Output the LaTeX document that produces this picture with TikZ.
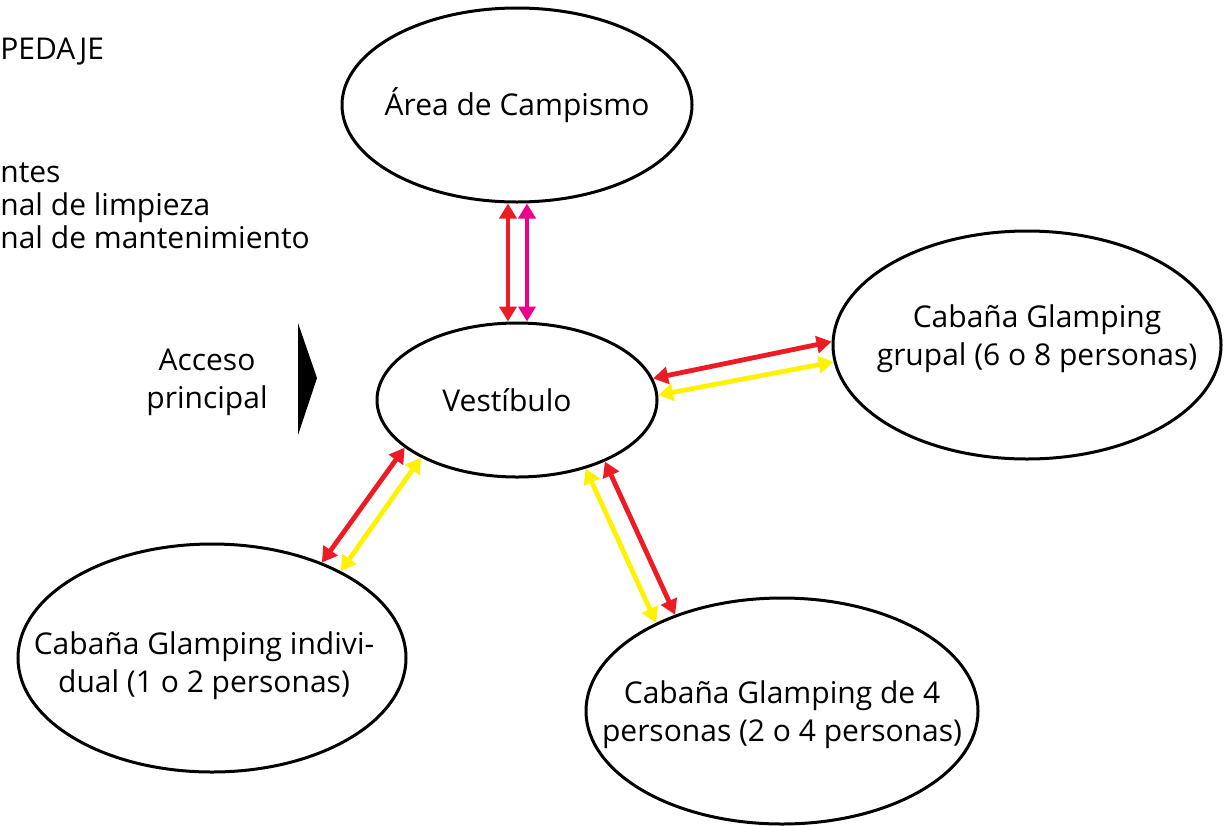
\documentclass[tikz,border=0pt]{standalone}
\usepackage{fontspec}
\setmainfont{Open Sans}
\usetikzlibrary{arrows.meta, shapes.geometric}
\definecolor{rojo}{RGB}{237,28,36}
\definecolor{rosa}{RGB}{236,0,140}
\definecolor{amarillo}{RGB}{255,242,0}

\begin{document}
\begin{tikzpicture}[
    x=0.5pt, y=-0.5pt,
    font=\fontsize{15}{19}\selectfont,
    area/.style={draw, ellipse, line width=1.5pt, inner sep=0pt},
    rotulo/.style={align=center, font=\fontsize{15}{19}\selectfont},
    link/.style={{Triangle[length=7.5pt,width=8.5pt]}-{Triangle[length=7.5pt,width=8.5pt]},
                 line width=2.4pt, draw=#1}
  ]
  \useasboundingbox (0,0) rectangle (1224,825);
  \node[anchor=west, inner sep=0pt] (titulo) at (0,52) {PEDAJE};
  \node[anchor=west, inner sep=0pt, align=left,
        font=\fontsize{15}{16.5}\selectfont] (usuarios) at (0,206)
       {ntes\\nal de limpieza\\nal de mantenimiento};

  \node[area, minimum width=175pt, minimum height=97pt,
        label={[rotulo]center:Área de Campismo}] (camp) at (517,105) {};
  \node[area, minimum width=140pt, minimum height=77pt,
        label={[rotulo, xshift=-5pt]center:Vestíbulo}] (vest) at (517,400) {};
  \node[area, minimum width=194pt, minimum height=114pt,
        label={[rotulo, xshift=5pt, yshift=3pt]center:Cabaña Glamping\\grupal (6 o 8 personas)}]
       (grup) at (1027,345) {};
  \node[area, minimum width=194pt, minimum height=114pt,
        label={[rotulo, xshift=-4pt, yshift=-4pt]center:Cabaña Glamping indivi-\\dual (1 o 2 personas)}]
       (indiv) at (212,658) {};
  \node[area, minimum width=196pt, minimum height=113pt,
        label={[rotulo, yshift=-2pt]center:Cabaña Glamping de 4\\personas (2 o 4 personas)}]
       (four) at (782,711) {};

  \node[align=center] (acceso) at (207,382) {Acceso\\principal};
  \fill (298,323) -- (317,378) -- (298,435) -- cycle;

  \draw[link=rojo] ([xshift=-4.5pt]camp.south) -- ([xshift=-4.5pt]vest.north);
  \draw[link=rosa] ([xshift=5pt]camp.south) -- ([xshift=5pt]vest.north);
  \draw[link=rojo] (vest.9.5) -- (grup.179);
  \draw[link=amarillo] (vest.2) -- (grup.185);
  \draw[link=rojo] (vest.203.7) -- (indiv.41.5);
  \draw[link=amarillo] (vest.211.4) -- (indiv.34.5);
  \draw[link=amarillo] (vest.-45) -- (four.145.2);
  \draw[link=rojo] (vest.-35.8) -- (four.138.5);
\end{tikzpicture}
\end{document}
